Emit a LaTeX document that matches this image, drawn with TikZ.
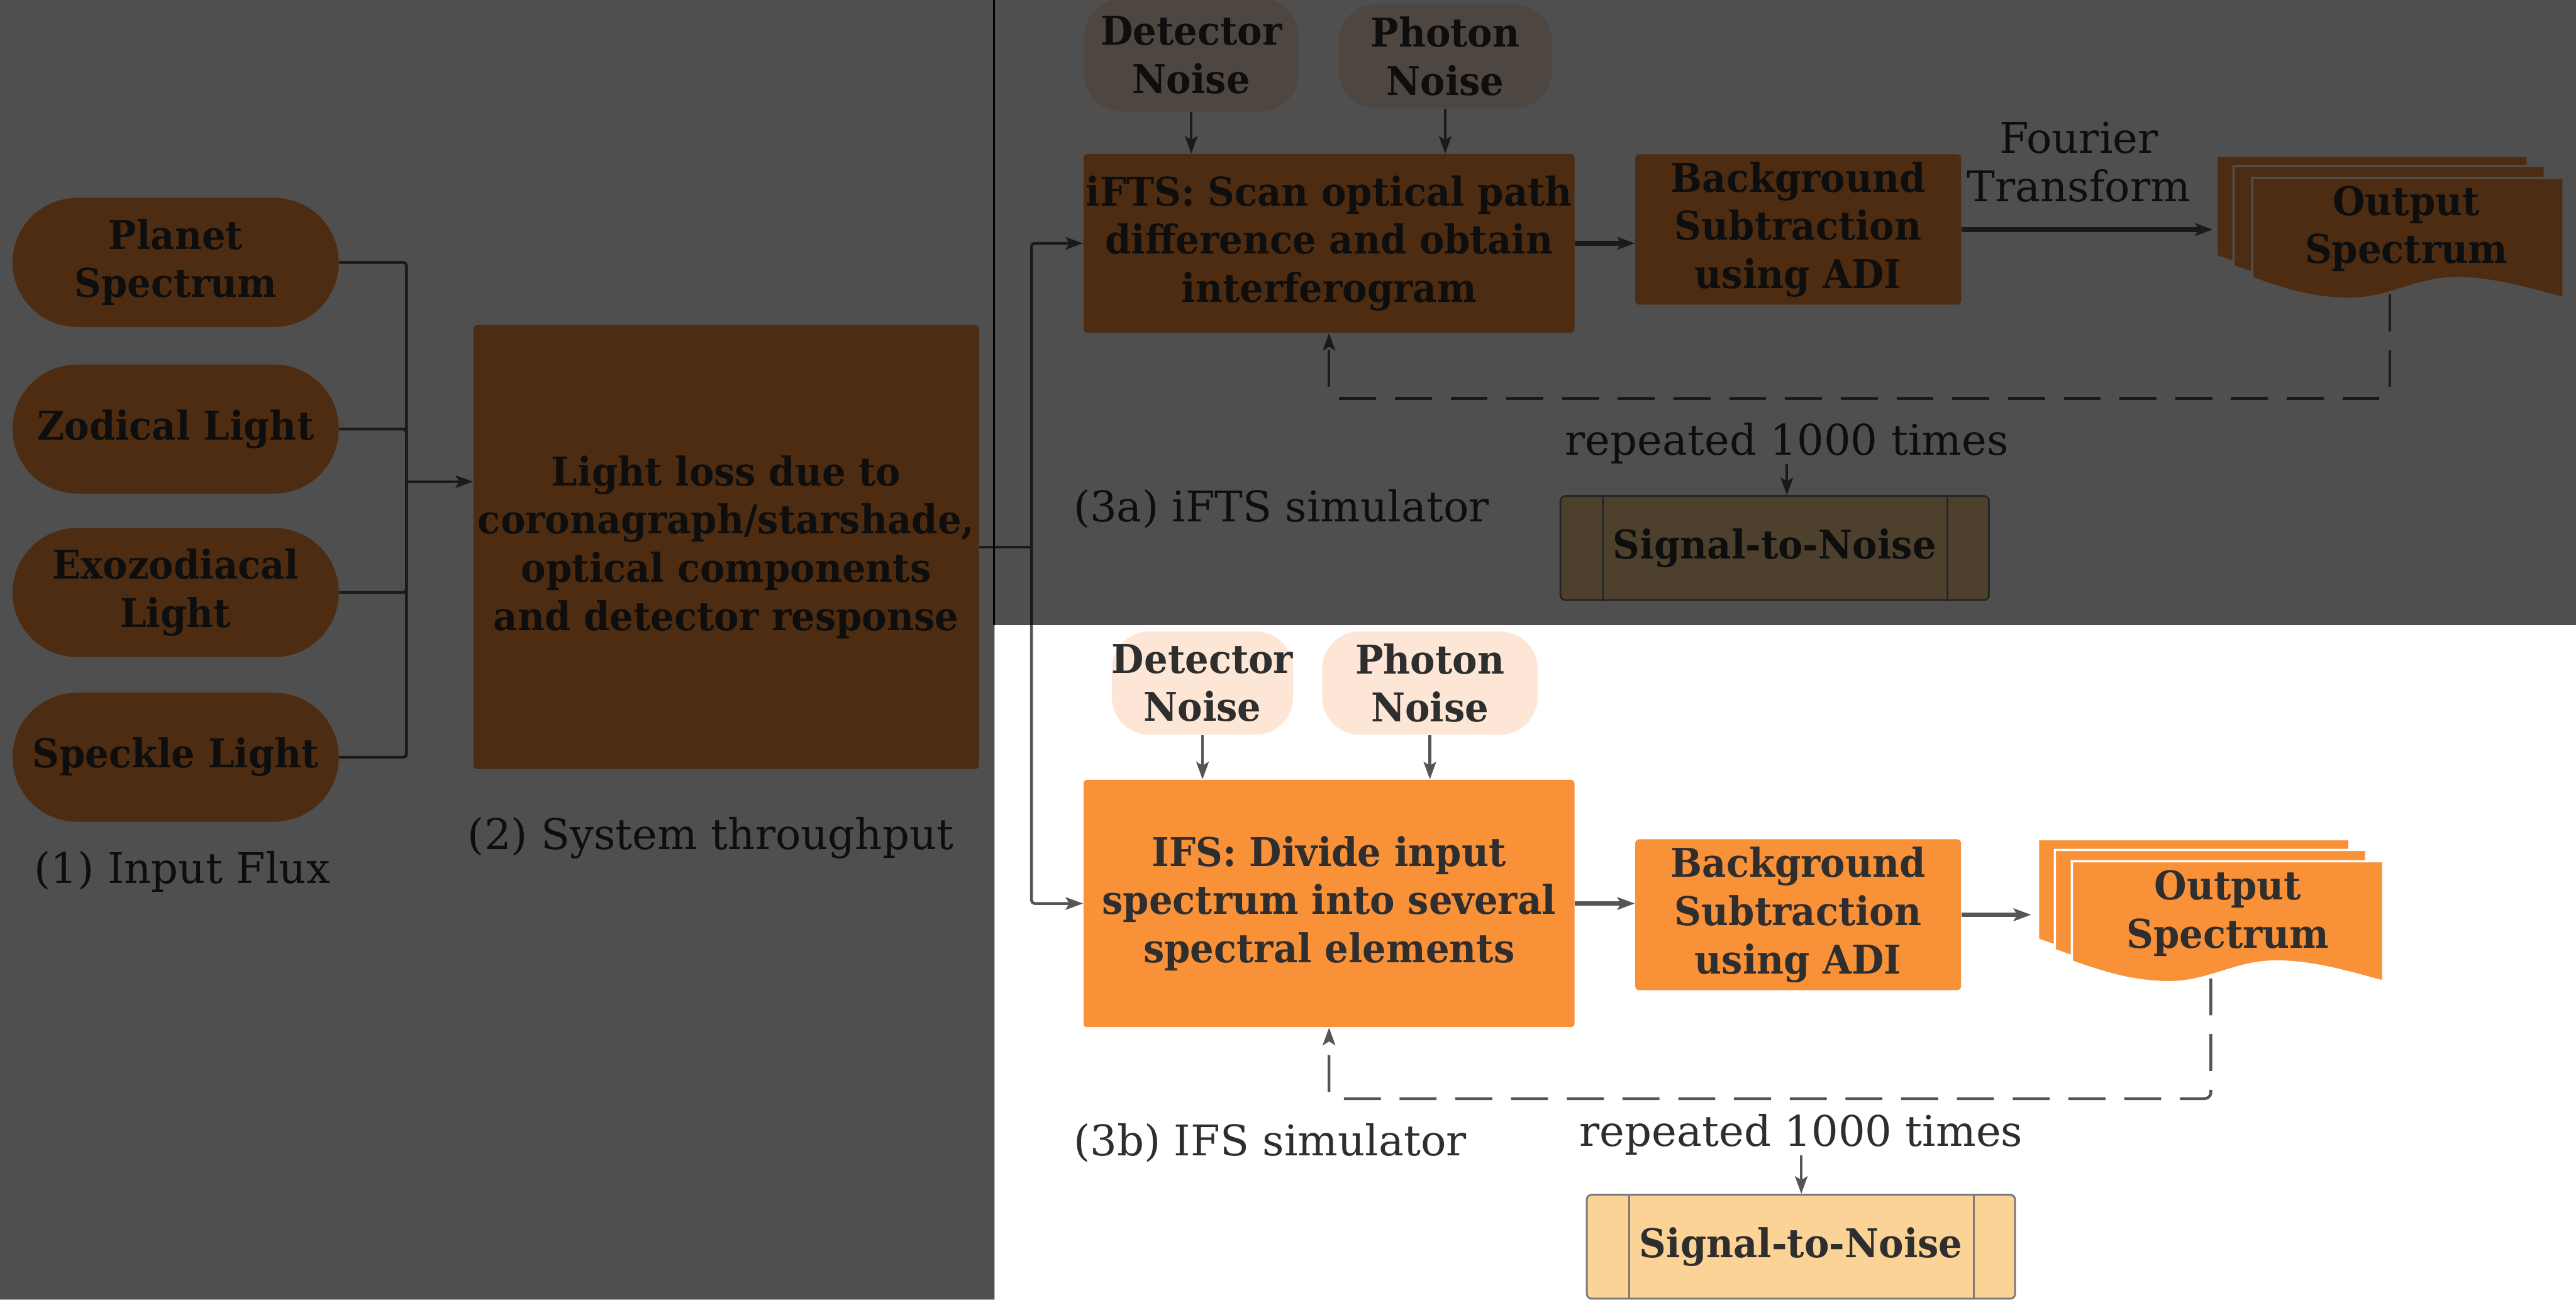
\documentclass[tikz,border=0pt]{standalone}
\usepackage{fontspec}
\setmainfont{DejaVu Serif}[FakeStretch=0.94]
\newfontfamily\labelfamily{DejaVu Serif}
\usetikzlibrary{arrows.meta,calc}

\definecolor{orng}{HTML}{F99139}
\definecolor{peach}{HTML}{FDE6D5}
\definecolor{snrfill}{HTML}{FBD396}
\definecolor{snredge}{HTML}{7A7A7A}
\definecolor{txt}{HTML}{2E2E2E}
\definecolor{lnk}{HTML}{555555}

\newcommand\boxfont{\fontsize{18}{21.9}\selectfont\bfseries}
\newcommand\capfont{\labelfamily\fontsize{19.2}{21.9}\selectfont}

\tikzset{
  base/.style={font=\boxfont, text=txt, align=center, inner sep=0pt},
  flux/.style={base, fill=orng, rounded corners=1.03cm,
               minimum width=5.21cm, minimum height=2.06cm},
  proc/.style={base, fill=orng, rounded corners=0.06cm},
  noise/.style={base, fill=peach, rounded corners=0.6cm},
  snr/.style={base, fill=snrfill, draw=snredge, line width=0.03cm,
              rounded corners=0.08cm, minimum width=6.84cm, minimum height=1.66cm},
  caption/.style={font=\capfont, text=txt, align=center, inner sep=0pt},
  wire/.style={draw=lnk, line width=0.045cm, rounded corners=0.05cm},
  link/.style={wire, -{Stealth[length=0.28cm,width=0.2cm,inset=0.06cm]}},
  boldlink/.style={link, line width=0.075cm},
  loop/.style={link, dash pattern=on 0.59cm off 0.30cm, rounded corners=0.1cm},
  docsheet/.pic={
    \path[fill=orng, draw=white, line width=0.035cm]
      (0,0) -- (4.97,0) -- (4.97,-1.92)
      .. controls (4.45,-1.78) and (3.85,-1.60) .. (3.27,-1.60)
      .. controls (2.60,-1.60) and (2.20,-1.93) .. (1.55,-1.93)
      .. controls (0.95,-1.93) and (0.45,-1.76) .. (0,-1.60) -- cycle;
  }
}

\begin{document}
\begin{tikzpicture}
\useasboundingbox (0,0) rectangle (41.13,-20.75);
\fill[white] (0,0) rectangle (41.13,-20.75);

% ---- (1) input flux ----
\node[flux] (planet)  at (2.805,-4.19)  {Planet\\Spectrum};
\node[flux] (zodi)    at (2.805,-6.85)  {Zodical Light};
\node[flux] (exozodi) at (2.805,-9.46)  {Exozodiacal\\Light};
\node[flux] (speckle) at (2.805,-12.09) {Speckle Light};
\node[caption] (cap1) at (2.91,-13.92) {(1) Input Flux};

% ---- (2) system throughput ----
\node[proc, minimum width=8.07cm, minimum height=7.09cm] (thru) at (11.595,-8.735)
  {Light loss due to\\coronagraph/starshade,\\optical components\\and detector response};
\node[caption] (cap2) at (11.35,-13.38) {(2) System throughput};

\coordinate (J) at (6.49,-7.69);
\draw[wire] (planet.east) -| (J);
\draw[wire] (zodi.east) -| (J);
\draw[wire] (exozodi.east) -| (J);
\draw[wire] (speckle.east) -| (J);
\draw[link] (J) -- (J -| thru.west);

% ---- (3a) iFTS simulator ----
\node[noise, minimum width=3.42cm, minimum height=1.80cm] (det1) at (19.02,-0.88) {Detector\\Noise};
\node[noise, minimum width=3.41cm, minimum height=1.66cm] (pho1) at (23.075,-0.90) {Photon\\Noise};
\node[proc, minimum width=7.84cm, minimum height=2.85cm] (ifts) at (21.22,-3.885)
  {iFTS: Scan optical path\\difference and obtain\\interferogram};
\node[proc, minimum width=5.20cm, minimum height=2.40cm] (bg1) at (28.71,-3.665)
  {Background\\Subtraction\\using ADI};
\pic at (35.39,-2.49) {docsheet};
\pic at (35.66,-2.65) {docsheet};
\pic at (35.96,-2.84) {docsheet};
\node[base] (out1) at (38.42,-3.65) {Output\\Spectrum};
\coordinate (out1in) at (35.33,-3.665);
\coordinate (out1bot) at (38.155,-4.70);
\node[caption] (ft) at (33.19,-2.585) {Fourier\\Transform};
\node[caption] (rep1) at (28.53,-7.08) {repeated 1000 times};
\node[snr] (snr1) at (28.335,-8.75) {Signal-to-Noise};
\node[caption] (cap3a) at (20.46,-8.13) {(3a) iFTS simulator};

\draw[link] (det1.south) -- (det1.south |- ifts.north);
\draw[link] (pho1.south) -- (pho1.south |- ifts.north);
\draw[boldlink] (ifts.east) -- (ifts.east -| bg1.west);
\draw[boldlink] (bg1.east) -- (out1in);
\draw[loop] (out1bot) -- (out1bot |- 0,-6.36) -| (ifts.south);
\draw[link] (rep1.south) -- (rep1.south |- snr1.north);

% ---- (3b) IFS simulator ----
\node[noise, minimum width=2.86cm, minimum height=1.65cm] (det2) at (19.20,-10.905) {Detector\\Noise};
\node[noise, minimum width=3.44cm, minimum height=1.65cm] (pho2) at (22.83,-10.905) {Photon\\Noise};
\node[proc, minimum width=7.84cm, minimum height=3.95cm] (ifs) at (21.22,-14.425)
  {IFS: Divide input\\spectrum into several\\spectral elements};
\node[proc, minimum width=5.20cm, minimum height=2.41cm] (bg2) at (28.71,-14.605)
  {Background\\Subtraction\\using ADI};
\pic at (32.54,-13.40) {docsheet};
\pic at (32.81,-13.57) {docsheet};
\pic at (33.08,-13.75) {docsheet};
\node[base] (out2) at (35.57,-14.585) {Output\\Spectrum};
\coordinate (out2in) at (32.43,-14.605);
\coordinate (out2bot) at (35.30,-15.62);
\node[caption] (rep2) at (28.76,-18.11) {repeated 1000 times};
\node[snr] (snr2) at (28.755,-19.905) {Signal-to-Noise};
\node[caption] (cap3b) at (20.28,-18.25) {(3b) IFS simulator};

\draw[link] (det2.south) -- (det2.south |- ifs.north);
\draw[link] (pho2.south) -- (pho2.south |- ifs.north);
\draw[boldlink] (ifs.east) -- (ifs.east -| bg2.west);
\draw[boldlink] (bg2.east) -- (out2in);
\draw[loop] (out2bot) -- (out2bot |- 0,-17.54) -| (ifs.south);
\draw[link] (rep2.south) -- (rep2.south |- snr2.north);

% double side bars of the signal-to-noise blocks
\foreach \s in {snr1,snr2}{
  \draw[snredge, line width=0.03cm] ([xshift=0.69cm]\s.north west) -- ([xshift=0.69cm]\s.south west);
  \draw[snredge, line width=0.03cm] ([xshift=-0.68cm]\s.north east) -- ([xshift=-0.68cm]\s.south east);
}

% ---- throughput to both simulators ----
\coordinate (K) at (16.47,-8.735);
\draw[wire] (thru.east) -- (K);
\draw[link] (K) |- (ifts.west);
\draw[link] (K) |- (ifs.west);

% ---- dimmed area around the highlighted IFS branch ----
\fill[black, opacity=0.69] (0,0) -- (41.13,0) -- (41.13,-9.98) -- (15.88,-9.98)
  -- (15.88,-20.75) -- (0,-20.75) -- cycle;
\draw[black, line width=0.025cm] (15.87,0) -- (15.87,-9.98);
\end{tikzpicture}
\end{document}
